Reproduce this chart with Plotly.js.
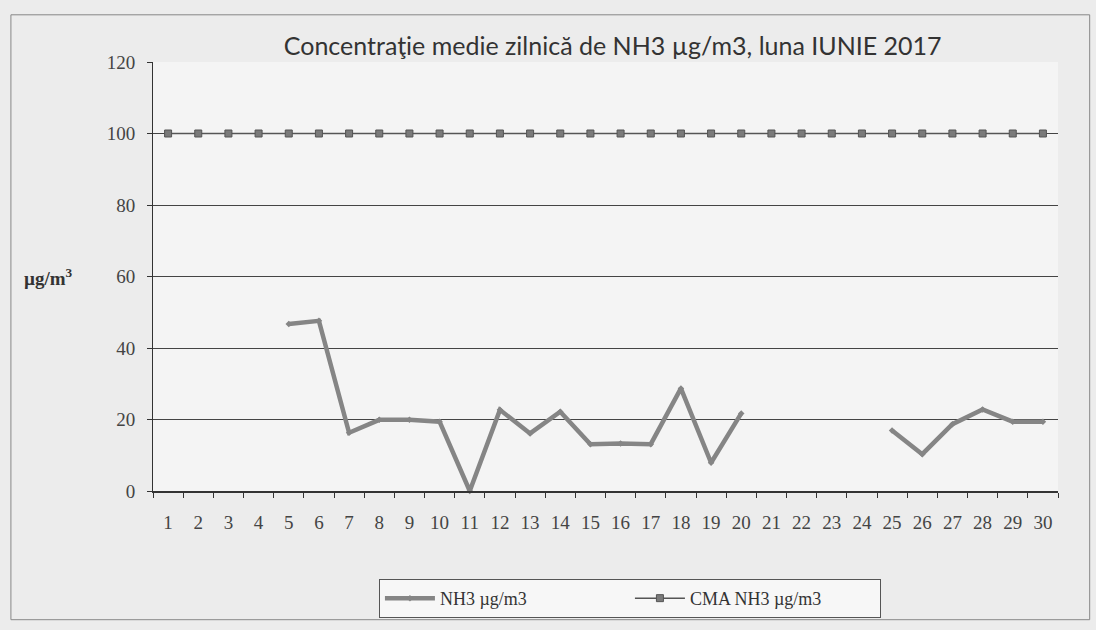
<!DOCTYPE html>
<html>
<head>
<meta charset="utf-8">
<script src="https://cdn.plot.ly/plotly-3.0.1.min.js"></script>
<style>html,body{margin:0;padding:0;background:#ececec;}#chart{width:1096px;height:630px;}</style>
</head>
<body>
<div id="chart"></div>
<script>
const days = ['1','2','3','4','5','6','7','8','9','10','11','12','13','14','15','16','17','18','19','20','21','22','23','24','25','26','27','28','29','30'];
const nh3 = [null,null,null,null,46.7,47.6,16.3,19.9,19.9,19.4,0,22.7,16.1,22.2,13.1,13.3,13.1,28.7,7.9,21.7,null,null,null,null,16.9,10.3,18.7,22.8,19.4,19.4];
const cma = [100,100,100,100,100,100,100,100,100,100,100,100,100,100,100,100,100,100,100,100,100,100,100,100,100,100,100,100,100,100];
const yTicks = [0,20,40,60,80,100,120];

const serif = 'Liberation Serif, Times New Roman, serif';
const traces = [
  {x: days, y: nh3, name: 'NH3 µg/m3', type: 'scatter', mode: 'lines+markers', connectgaps: false, cliponaxis: false,
   line: {color: '#858585', width: 4.5}, marker: {symbol: 'diamond', size: 5, color: '#858585'}},
  {x: days, y: cma, name: 'CMA NH3 µg/m3', type: 'scatter', mode: 'lines+markers',
   line: {color: '#555555', width: 1.5}, marker: {symbol: 'square', size: 7, color: '#7a7a7a', line: {color: '#555', width: 1}}}
];
const layout = {
  width: 1096, height: 630,
  paper_bgcolor: '#ececec', plot_bgcolor: '#f4f4f4',
  margin: {l: 153, r: 38, t: 62, b: 139},
  title: {text: 'Concentraţie medie zilnică de NH3 µg/m3, luna IUNIE 2017', x: 0.559, xanchor: 'center', y: 0.927, yanchor: 'middle',
          font: {family: 'Lato, Open Sans, sans-serif', size: 25, color: '#333'}},
  xaxis: {type: 'category', categoryorder: 'array', categoryarray: days, tickvals: days, range: [-0.5, 29.5],
          showgrid: false, showline: true, linecolor: '#333', linewidth: 1.5,
          ticks: 'outside', tickson: 'boundaries', ticklen: 5, tickcolor: '#333', ticklabelstandoff: 14,
          tickfont: {family: serif, size: 19, color: '#444'}, zeroline: false},
  yaxis: {range: [0, 120], tickvals: yTicks, showgrid: true, gridcolor: '#444', gridwidth: 1,
          showline: true, linecolor: '#333', linewidth: 1, ticks: 'outside', ticklen: 5, tickcolor: '#333', ticklabelstandoff: 8,
          tickfont: {family: serif, size: 19, color: '#444'}, zeroline: false},
  showlegend: true,
  legend: {orientation: 'h', x: 0.527, xanchor: 'center', y: -0.205, yanchor: 'top',
           bgcolor: '#f7f7f7', bordercolor: '#555', borderwidth: 1,
           font: {family: serif, size: 18, color: '#333'}, itemwidth: 50, entrywidth: 185},
  annotations: [{text: '<b>µg/m<sup>3</sup></b>', xref: 'paper', yref: 'paper', x: -0.115, y: 0.5, xanchor: 'center', yanchor: 'middle',
                 showarrow: false, font: {family: serif, size: 19, color: '#333'}}],
  shapes: [{type: 'rect', xref: 'paper', yref: 'paper', x0: -0.157, x1: 1.035, y0: -0.3, y1: 1.11, line: {color: '#888', width: 1}, layer: 'below'}]
};
Plotly.newPlot('chart', traces, layout, {displayModeBar: false, staticPlot: true});
</script>
</body>
</html>
